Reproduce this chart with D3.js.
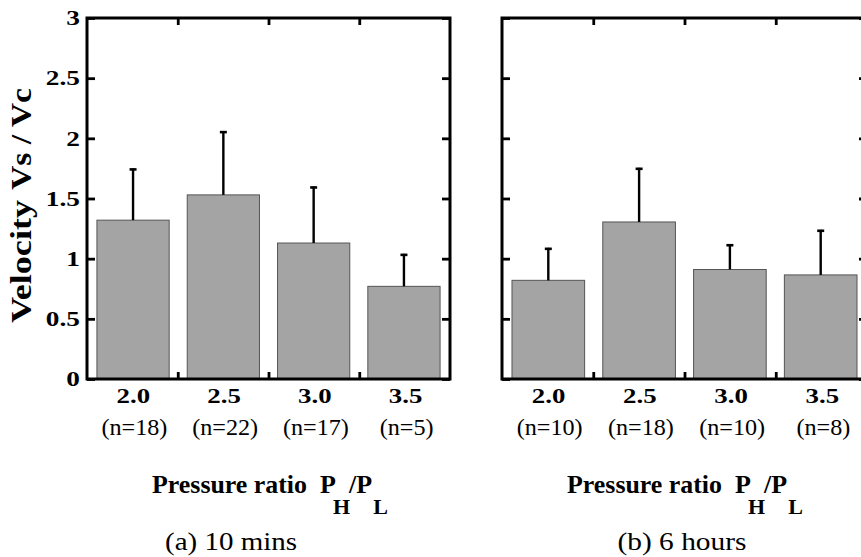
<!DOCTYPE html>
<html>
<head>
<meta charset="utf-8">
<script src="https://cdn.jsdelivr.net/npm/d3@7"></script>
<style>
  body { margin: 0; background: #fff; }
  text { font-family: "Liberation Serif", "Times New Roman", Times, serif; fill: #000; }
</style>
</head>
<body>
<div id="chart"></div>
<script>
// pressure ratio categories
var ratios = ["2.0", "2.5", "3.0", "3.5"];
var yTicks = [0, 0.5, 1, 1.5, 2, 2.5, 3];
var yTickLabels = ["0", "0.5", "1", "1.5", "2", "2.5", "3"];

// (a) 10 mins
var mins10Mean = [1.32, 1.53, 1.13, 0.77];
var mins10Err  = [0.43, 0.53, 0.47, 0.27];
var mins10N    = [18, 22, 17, 5];

// (b) 6 hours
var hours6Mean = [0.82, 1.305, 0.91, 0.865];
var hours6Err  = [0.27, 0.45, 0.21, 0.375];
var hours6N    = [10, 18, 10, 8];

var captions = ["(a) 10 mins", "(b) 6 hours"];

var W = 861, H = 557;
var plotTop = 18, plotBottom = 379;

var svg = d3.select("#chart").append("svg")
    .attr("width", W)
    .attr("height", H);

svg.append("rect").attr("width", W).attr("height", H).attr("fill", "#fff");

var y = d3.scaleLinear().domain([0, 3]).range([plotBottom, plotTop]);

// stretch text horizontally a bit (the original font is wider)
function stretch(sel, k) {
  sel.each(function() {
    var w = this.getComputedTextLength();
    d3.select(this).attr("textLength", w * k).attr("lengthAdjust", "spacingAndGlyphs");
  });
}

function drawPanel(mean, err, n, opt) {
  var g = svg.append("g");

  var data = ratios.map(function(r, i) {
    return { ratio: r, mean: mean[i], err: err[i], n: n[i] };
  });

  var xBar = d3.scaleBand().domain(ratios)
      .range([opt.left, opt.right])
      .paddingInner(0.2)
      .paddingOuter(0.11);
  var xCat = d3.scaleBand().domain(ratios).range([opt.left, opt.right]);
  var xEdge = d3.scaleLinear().domain([0, ratios.length]).range([opt.left, opt.right]);

  // bars
  g.selectAll(".bar")
    .data(data)
    .enter()
    .append("rect")
    .attr("class", "bar")
    .attr("x", function(d) { return xBar(d.ratio); })
    .attr("width", xBar.bandwidth())
    .attr("y", function(d) { return y(d.mean); })
    .attr("height", function(d) { return y(0) - y(d.mean); })
    .attr("fill", "#a4a4a4")
    .attr("stroke", "#555")
    .attr("stroke-width", 1);

  // error bars (upper only)
  var eb = g.selectAll(".err").data(data).enter().append("g").attr("class", "err");
  eb.append("line")
    .attr("x1", function(d) { return xBar(d.ratio) + xBar.bandwidth() / 2; })
    .attr("x2", function(d) { return xBar(d.ratio) + xBar.bandwidth() / 2; })
    .attr("y1", function(d) { return y(d.mean); })
    .attr("y2", function(d) { return y(d.mean + d.err); })
    .attr("stroke", "#000")
    .attr("stroke-width", 2.4);
  eb.append("line")
    .attr("x1", function(d) { return xBar(d.ratio) + xBar.bandwidth() / 2 - 3.5; })
    .attr("x2", function(d) { return xBar(d.ratio) + xBar.bandwidth() / 2 + 3.5; })
    .attr("y1", function(d) { return y(d.mean + d.err) + 1; })
    .attr("y2", function(d) { return y(d.mean + d.err) + 1; })
    .attr("stroke", "#000")
    .attr("stroke-width", 2.6);

  // inward ticks on all four sides
  var leftAxis = d3.axisLeft(y).tickValues(yTicks).tickSize(-8).tickPadding(5.5)
      .tickFormat(function(d, i) { return opt.showY ? yTickLabels[i] : ""; });
  var gl = g.append("g").attr("transform", "translate(" + opt.left + ",0)").call(leftAxis);
  var gr = g.append("g").attr("transform", "translate(" + opt.right + ",0)")
      .call(d3.axisRight(y).tickValues(yTicks).tickSize(-8).tickFormat(""));
  var gt = g.append("g").attr("transform", "translate(0," + plotTop + ")")
      .call(d3.axisTop(xEdge).tickValues([1, 2, 3]).tickSize(-7).tickFormat(""));
  var gb = g.append("g").attr("transform", "translate(0," + plotBottom + ")")
      .call(d3.axisBottom(xEdge).tickValues([1, 2, 3]).tickSize(-7).tickFormat(""));

  [gl, gr, gt, gb].forEach(function(a) {
    a.select(".domain").remove();
    a.selectAll(".tick line").attr("stroke", "#000").attr("stroke-width", 2.8);
  });

  if (opt.showY) {
    gl.selectAll(".tick text")
      .attr("font-weight", "bold")
      .attr("font-size", 21)
      .attr("fill", "#000")
      .attr("transform", "scale(1.3,1)");
  } else {
    gl.selectAll(".tick text").remove();
  }
  gr.selectAll(".tick text").remove();
  gt.selectAll(".tick text").remove();
  gb.selectAll(".tick text").remove();

  // frame
  g.append("rect")
    .attr("x", opt.left)
    .attr("y", plotTop)
    .attr("width", opt.right - opt.left)
    .attr("height", plotBottom - plotTop)
    .attr("fill", "none")
    .attr("stroke", "#000")
    .attr("stroke-width", 3);

  // category labels
  g.selectAll(".cat")
    .data(data)
    .enter()
    .append("text")
    .attr("class", "cat")
    .attr("x", function(d) { return xCat(d.ratio) + xCat.bandwidth() / 2 + 1; })
    .attr("y", 403)
    .attr("text-anchor", "middle")
    .attr("font-weight", "bold")
    .attr("font-size", 22)
    .text(function(d) { return d.ratio; })
    .call(stretch, 1.22);

  g.selectAll(".ncount")
    .data(data)
    .enter()
    .append("text")
    .attr("class", "ncount")
    .attr("x", function(d) { return xCat(d.ratio) + xCat.bandwidth() / 2 + 2; })
    .attr("y", 435)
    .attr("text-anchor", "middle")
    .attr("font-size", 23)
    .text(function(d) { return "(n=" + d.n + ")"; })
    .call(stretch, 1.05);

  // x axis title
  g.append("text")
    .attr("x", opt.titleX)
    .attr("y", 493)
    .attr("font-weight", "bold")
    .attr("font-size", 26)
    .text("Pressure ratio")
    .attr("textLength", 155)
    .attr("lengthAdjust", "spacingAndGlyphs");
  var xt = g.append("text")
    .attr("x", opt.titleX + 168)
    .attr("y", 493)
    .attr("font-weight", "bold")
    .attr("font-size", 26);
  xt.append("tspan").text("P");
  xt.append("tspan").attr("dy", 21).attr("font-size", 22).attr("dx", -3).text("H");
  xt.append("tspan").attr("dy", -21).attr("dx", -1).text("/P");
  xt.append("tspan").attr("dy", 21).attr("font-size", 22).attr("dx", 1).text("L");

  // subcaption
  g.append("text")
    .attr("x", opt.capX)
    .attr("y", 550)
    .attr("text-anchor", "middle")
    .attr("font-size", 25)
    .text(opt.caption)
    .attr("textLength", opt.capW)
    .attr("lengthAdjust", "spacingAndGlyphs");
}

drawPanel(mins10Mean, mins10Err, mins10N,
  { left: 87, right: 450, showY: true, titleX: 152, capX: 231, capW: 132, caption: captions[0] });
drawPanel(hours6Mean, hours6Err, hours6N,
  { left: 502, right: 867, showY: false, titleX: 567, capX: 682, capW: 129, caption: captions[1] });

// y axis title (rotated)
var yl = svg.append("g").attr("transform", "translate(31,0) rotate(-90)");
yl.append("text")
  .attr("x", -323)
  .attr("y", 0)
  .attr("font-weight", "bold")
  .attr("font-size", 29)
  .text("Velocity")
  .attr("textLength", 123)
  .attr("lengthAdjust", "spacingAndGlyphs");
yl.append("text")
  .attr("x", -190)
  .attr("y", 0)
  .attr("font-weight", "bold")
  .attr("font-size", 29)
  .text("Vs / Vc")
  .attr("textLength", 102)
  .attr("lengthAdjust", "spacingAndGlyphs");
</script>
</body>
</html>
